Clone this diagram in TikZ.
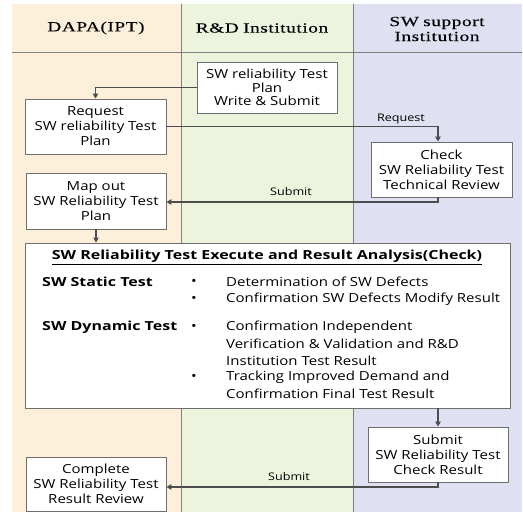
\documentclass[tikz,border=0pt]{standalone}
\usepackage{fontspec}
\setmainfont[FakeStretch=1.2, BoldFeatures={FakeStretch=1.28}]{Open Sans}
\newfontfamily\hdrfont[LetterSpace=4, FakeStretch=1.38, WordSpace=0.8, FakeBold=0.12]{Liberation Serif}
\usetikzlibrary{arrows.meta}

\definecolor{laneA}{HTML}{FDF0DA}
\definecolor{laneB}{HTML}{ECF4DE}
\definecolor{laneC}{HTML}{DFE1F2}
\definecolor{rulegray}{HTML}{7F7F7F}
\definecolor{boxgray}{HTML}{6E6E6E}
\definecolor{flowgray}{HTML}{4D4D4D}

\tikzset{
  lanerule/.style={draw=rulegray, line width=1pt},
  hdr/.style={font=\hdrfont\fontsize{14}{15}\selectfont, align=center, inner sep=0pt},
  stepbox/.style={draw=boxgray, fill=white, line width=0.9pt, align=center,
    inner sep=0pt, font=\fontsize{12.5}{15}\selectfont},
  flow/.style={draw=flowgray, line width=1.1pt,
    -{Triangle[length=5pt,width=5.5pt]}},
  flowlbl/.style={font=\fontsize{10.5}{12}\selectfont, inner sep=0pt},
  bodytxt/.style={font=\fontsize{12.5}{15}\selectfont, inner sep=0pt, anchor=west},
  boldtxt/.style={font=\bfseries\fontsize{12.5}{15}\selectfont, inner sep=0pt, anchor=west},
}

\begin{document}
\begin{tikzpicture}[x=1pt, y=-1pt]
  \useasboundingbox (0,0) rectangle (523,521);

  % swim lanes
  \fill[laneA] (12,4) rectangle (181,512);
  \fill[laneB] (181,4) rectangle (353,512);
  \fill[laneC] (353,4) rectangle (522,512);
  \draw[lanerule] (12,52.5) -- (522,52.5);
  \draw[lanerule] (181,4) -- (181,512);
  \draw[lanerule] (353,4) -- (353,512);

  % lane headings
  \node[hdr] (h1) at (96,28) {DAPA(IPT)};
  \node[hdr] (h2) at (262,28) {R\&D Institution};
  \node[hdr] (h3) at (437,29) {SW support\\Institution};

  % process steps
  \node[stepbox, minimum width=140pt, minimum height=51pt,
        font=\fontsize{12.5}{13.5}\selectfont] (b1) at (267,87.5)
    {SW reliability Test\\Plan\\Write \& Submit};
  \node[stepbox, minimum width=141pt, minimum height=55pt] (b2) at (95.5,126.5)
    {Request\\SW reliability Test\\Plan};
  \node[stepbox, minimum width=141pt, minimum height=55pt] (b3) at (441.5,169.5)
    {Check\\SW Reliability Test\\Technical Review};
  \node[stepbox, minimum width=140pt, minimum height=56pt] (b4) at (96,201)
    {Map out\\SW Reliability Test\\Plan};
  \node[stepbox, minimum width=485pt, minimum height=165pt] (big) at (267.5,325.5) {};
  \node[stepbox, minimum width=140pt, minimum height=55pt] (b6) at (438,454.5)
    {Submit\\SW Reliability Test\\Check Result};
  \node[stepbox, minimum width=140pt, minimum height=54pt] (b7) at (96,484)
    {Complete\\SW Reliability Test\\Result Review};

  % contents of the test execution step
  \node[font=\bfseries\fontsize{12.5}{15}\selectfont, inner sep=0pt] (title) at (267,257.5)
    {\underline{SW Reliability Test Execute and Result Analysis(Check)}};
  \node[boldtxt] (st) at (42,282) {SW Static Test};
  \node[boldtxt] (dt) at (42,327) {SW Dynamic Test};
  \node[bodytxt] (u1) at (191,282) {•};
  \node[bodytxt] (u2) at (191,299) {•};
  \node[bodytxt] (u3) at (191,327) {•};
  \node[bodytxt] (u4) at (191,377) {•};
  \node[bodytxt] (t1) at (226,282) {Determination of SW Defects};
  \node[bodytxt] (t2) at (226,299) {Confirmation SW Defects Modify Result};
  \node[bodytxt] (t3) at (226,327) {Confirmation Independent};
  \node[bodytxt] (t4) at (226,344) {Verification \& Validation and R\&D};
  \node[bodytxt] (t5) at (226,361) {Institution Test Result};
  \node[bodytxt] (t6) at (226,377) {Tracking Improved Demand and};
  \node[bodytxt] (t7) at (226,394) {Confirmation Final Test Result};

  % connectors
  \coordinate (cx) at (438,0);
  \draw[flow] (b1.west) -| (b2.north);
  \draw[flow] (b2.east) -| (cx |- b3.north);
  \draw[flow] (cx |- b3.south) |- (b4.east |- 0,202);
  \draw[flow] (b4.south) -- (b4.south |- big.north);
  \draw[flow] (cx |- big.south) -- (cx |- b6.north);
  \draw[flow] (cx |- b6.south) |- (b7.east |- 0,487);

  % connector labels
  \node[flowlbl] (l1) at (401,119) {Request};
  \node[flowlbl] (l2) at (291,192) {Submit};
  \node[flowlbl] (l3) at (289,477) {Submit};
\end{tikzpicture}
\end{document}
